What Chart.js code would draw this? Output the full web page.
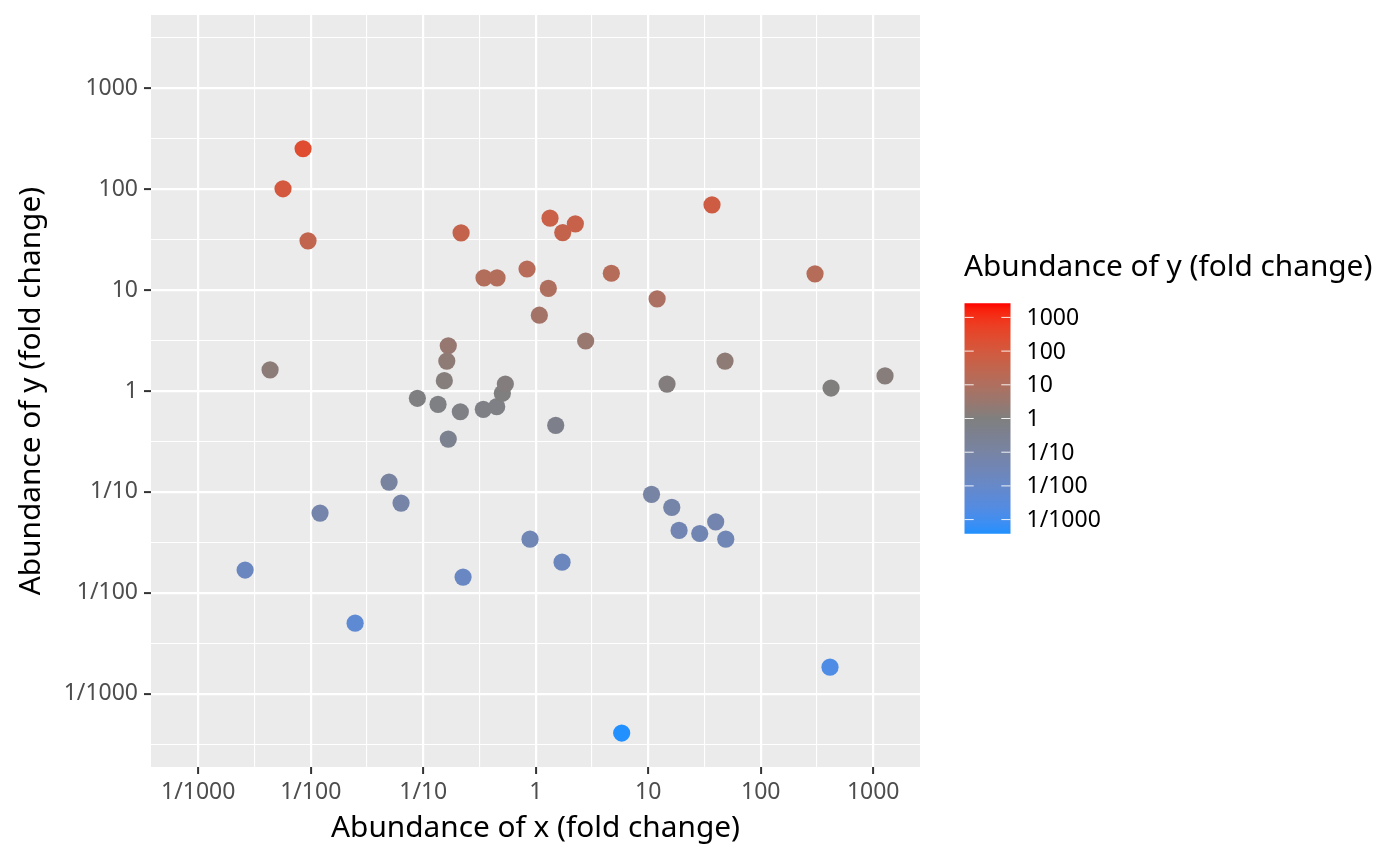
<!DOCTYPE html>
<html>
<head>
<meta charset="utf-8">
<script src="https://cdn.jsdelivr.net/npm/chart.js@4.4.1/dist/chart.umd.min.js"></script>
<style>
  html, body { margin: 0; padding: 0; background: #fff; }
  #wrap { width: 1400px; height: 866px; position: relative; }
</style>
</head>
<body>
<div id="wrap"><canvas id="scatter"></canvas></div>
<script>
/* ===== data ===== */
const X_VALUES = [
  0.00855, 0.00567, 0.00946, 0.00435, 0.00261, 0.0121, 0.0248, 0.0497, 0.0635, 0.0887,
  0.1354, 0.167, 0.162, 0.154, 0.167, 0.2137, 0.217, 0.226, 0.347, 0.453,
  0.342, 0.450, 0.505, 0.537, 0.837, 0.890, 1.077, 1.294, 1.34, 1.738,
  2.25, 1.506, 1.714, 2.78, 4.70, 5.81, 10.7, 12.0, 14.7, 16.2,
  18.8, 28.7, 36.9, 39.8, 48.2, 48.9, 304, 413, 422, 1274
];
const Y_VALUES = [
  252, 101, 30.8, 1.62, 0.0168, 0.0616, 0.0050, 0.125, 0.0774, 0.847,
  0.738, 2.81, 1.98, 1.265, 0.334, 0.623, 36.9, 0.0143, 13.2, 13.2,
  0.658, 0.699, 0.949, 1.173, 16.2, 0.0340, 5.64, 10.4, 51.7, 37.2,
  45.4, 0.457, 0.0201, 3.13, 14.7, 0.000407, 0.0945, 8.18, 1.17, 0.0702,
  0.0415, 0.0387, 70, 0.0505, 1.98, 0.0340, 14.5, 0.00183, 1.07, 1.41
];
const MAJOR_TICKS = [0.001, 0.01, 0.1, 1, 10, 100, 1000];
const TICK_LABELS = ['1/1000', '1/100', '1/10', '1', '10', '100', '1000'];
const X_TITLE = 'Abundance of x (fold change)';
const Y_TITLE = 'Abundance of y (fold change)';
const LEGEND_TITLE = 'Abundance of y (fold change)';

/* ===== colour scale (ggplot gradient2 style, Lab interpolation) ===== */
const LOW = '#1E90FF', MID = '#7F7F7F', HIGH = '#FF0000';
const COLOR_LIMIT = 3.42;   // |log10| at the ends of the colour bar

function hexToRgb(h) {
  return [1, 3, 5].map(i => parseInt(h.slice(i, i + 2), 16));
}
function toLab([r, g, b]) {
  const lin = c => { c /= 255; return c <= 0.04045 ? c / 12.92 : Math.pow((c + 0.055) / 1.055, 2.4); };
  const R = lin(r), G = lin(g), B = lin(b);
  const X = (0.4124 * R + 0.3576 * G + 0.1805 * B) / 0.95047;
  const Y = 0.2126 * R + 0.7152 * G + 0.0722 * B;
  const Z = (0.0193 * R + 0.1192 * G + 0.9505 * B) / 1.08883;
  const f = t => t > 0.008856 ? Math.cbrt(t) : 7.787 * t + 16 / 116;
  const fx = f(X), fy = f(Y), fz = f(Z);
  return [116 * fy - 16, 500 * (fx - fy), 200 * (fy - fz)];
}
function fromLab([L, a, bb]) {
  const fy = (L + 16) / 116, fx = fy + a / 500, fz = fy - bb / 200;
  const fi = t => t > 0.206893 ? t * t * t : (t - 16 / 116) / 7.787;
  const X = fi(fx) * 0.95047, Y = fi(fy), Z = fi(fz) * 1.08883;
  const R = 3.2406 * X - 1.5372 * Y - 0.4986 * Z;
  const G = -0.9689 * X + 1.8758 * Y + 0.0415 * Z;
  const B = 0.0557 * X - 0.2040 * Y + 1.0570 * Z;
  const gam = c => {
    c = c <= 0.0031308 ? 12.92 * c : 1.055 * Math.pow(c, 1 / 2.4) - 0.055;
    return Math.max(0, Math.min(255, Math.round(c * 255)));
  };
  return `rgb(${gam(R)},${gam(G)},${gam(B)})`;
}
const LAB_LOW = toLab(hexToRgb(LOW)), LAB_MID = toLab(hexToRgb(MID)), LAB_HIGH = toLab(hexToRgb(HIGH));

function colourFor(value) {
  let t = Math.log10(value) / COLOR_LIMIT;
  t = Math.max(-1, Math.min(1, t));
  const end = t >= 0 ? LAB_HIGH : LAB_LOW;
  const k = Math.abs(t);
  return fromLab(LAB_MID.map((m, i) => m + (end[i] - m) * k));
}

/* ===== grid / tick helpers ===== */
const FONT = "'Noto Sans', 'Open Sans', sans-serif";
const TITLE_SIZE = 29.8;
const isMajor = v => MAJOR_TICKS.some(m => Math.abs(Math.log10(v) - Math.log10(m)) < 1e-6);
const labelFor = v => {
  const i = MAJOR_TICKS.findIndex(m => Math.abs(Math.log10(v) - Math.log10(m)) < 1e-6);
  return i >= 0 ? TICK_LABELS[i] : '';
};
// majors plus the half-decade minor lines between (and just outside) them
function gridValues() {
  const vals = [];
  for (let e = -4; e <= 3; e++) {
    vals.push(Math.pow(10, e), Math.pow(10, e + 0.5));
  }
  return vals;
}

function logAxis(min, max, isX) {
  return {
    type: 'logarithmic',
    min: Math.pow(10, min),
    max: Math.pow(10, max),
    afterBuildTicks: scale => {
      scale.ticks = gridValues()
        .filter(v => v >= scale.min && v <= scale.max)
        .map(v => ({ value: v }));
    },
    afterFit: scale => {
      if (isX) {
        scale.height = 99;
        scale.paddingLeft = 0; scale.paddingRight = 0;
      } else {
        scale.width = 151;
        scale.paddingTop = 0; scale.paddingBottom = 0;
      }
    },
    border: { display: false },
    grid: {
      color: '#FFFFFF',
      lineWidth: ctx => (ctx.tick && isMajor(ctx.tick.value)) ? 2.2 : 1.1,
      drawTicks: true,
      tickLength: 7,
      tickWidth: 2,
      tickColor: ctx => (ctx.tick && isMajor(ctx.tick.value)) ? '#333333' : 'rgba(0,0,0,0)',
    },
    ticks: {
      autoSkip: false,
      maxRotation: 0,
      minRotation: 0,
      padding: isX ? 5 : 6,
      color: '#4D4D4D',
      font: { family: FONT, size: 23 },
      callback: v => labelFor(v),
    },
    title: {
      display: true,
      text: isX ? X_TITLE : Y_TITLE,
      color: '#000000',
      font: { family: FONT, size: TITLE_SIZE },
      padding: isX ? { top: 0, bottom: 20 } : { top: 14, bottom: 0 },
    },
  };
}

/* ===== plugins ===== */
const panelBackground = {
  id: 'panelBackground',
  beforeDraw(chart) {
    const { ctx, chartArea: a } = chart;
    ctx.save();
    ctx.fillStyle = '#EBEBEB';
    ctx.fillRect(a.left, a.top, a.right - a.left, a.bottom - a.top);
    ctx.restore();
  }
};

const colourBar = {
  id: 'colourBar',
  afterDraw(chart) {
    const { ctx } = chart;
    const left = 964.5, width = 46;
    const centre = 418.5, perDecade = 33.7;
    const top = centre - COLOR_LIMIT * perDecade;
    const bottom = centre + COLOR_LIMIT * perDecade;
    ctx.save();

    ctx.fillStyle = '#000000';
    ctx.font = `${TITLE_SIZE}px ${FONT}`;
    ctx.textBaseline = 'middle';
    ctx.textAlign = 'left';
    ctx.fillText(LEGEND_TITLE, 964, 268);

    const grad = ctx.createLinearGradient(0, top, 0, bottom);
    const steps = 40;
    for (let i = 0; i <= steps; i++) {
      const lg = COLOR_LIMIT - (2 * COLOR_LIMIT) * i / steps;
      grad.addColorStop(i / steps, colourFor(Math.pow(10, lg)));
    }
    ctx.fillStyle = grad;
    ctx.fillRect(left, top, width, bottom - top);

    ctx.font = `23px ${FONT}`;
    ctx.fillStyle = '#000000';
    ctx.strokeStyle = 'rgba(255,255,255,0.9)';
    ctx.lineWidth = 1;
    MAJOR_TICKS.forEach((v, i) => {
      const y = centre - Math.log10(v) * perDecade;
      ctx.beginPath();
      ctx.moveTo(left, y); ctx.lineTo(left + 9.2, y);
      ctx.moveTo(left + width - 9.2, y); ctx.lineTo(left + width, y);
      ctx.stroke();
      ctx.fillText(TICK_LABELS[i], 1026.5, y + 1);
    });
    ctx.restore();
  }
};

/* ===== chart ===== */
function renderScatter() {
  const ctx = document.getElementById('scatter').getContext('2d');
  new Chart(ctx, {
    type: 'scatter',
    data: {
      datasets: [{
        data: X_VALUES.map((x, i) => ({ x, y: Y_VALUES[i] })),
        backgroundColor: Y_VALUES.map(colourFor),
        borderWidth: 0,
        pointRadius: 8.6,
        pointHoverRadius: 8.6,
      }]
    },
    options: {
      responsive: true,
      maintainAspectRatio: false,
      animation: false,
      layout: { padding: { left: 0, top: 15, right: 480, bottom: 0 } },
      plugins: { legend: { display: false }, tooltip: { enabled: false } },
      scales: {
        x: logAxis(-3.42, 3.416, true),
        y: logAxis(-3.727, 3.727, false),
      }
    },
    plugins: [panelBackground, colourBar],
  });
}

renderScatter();
</script>
</body>
</html>
